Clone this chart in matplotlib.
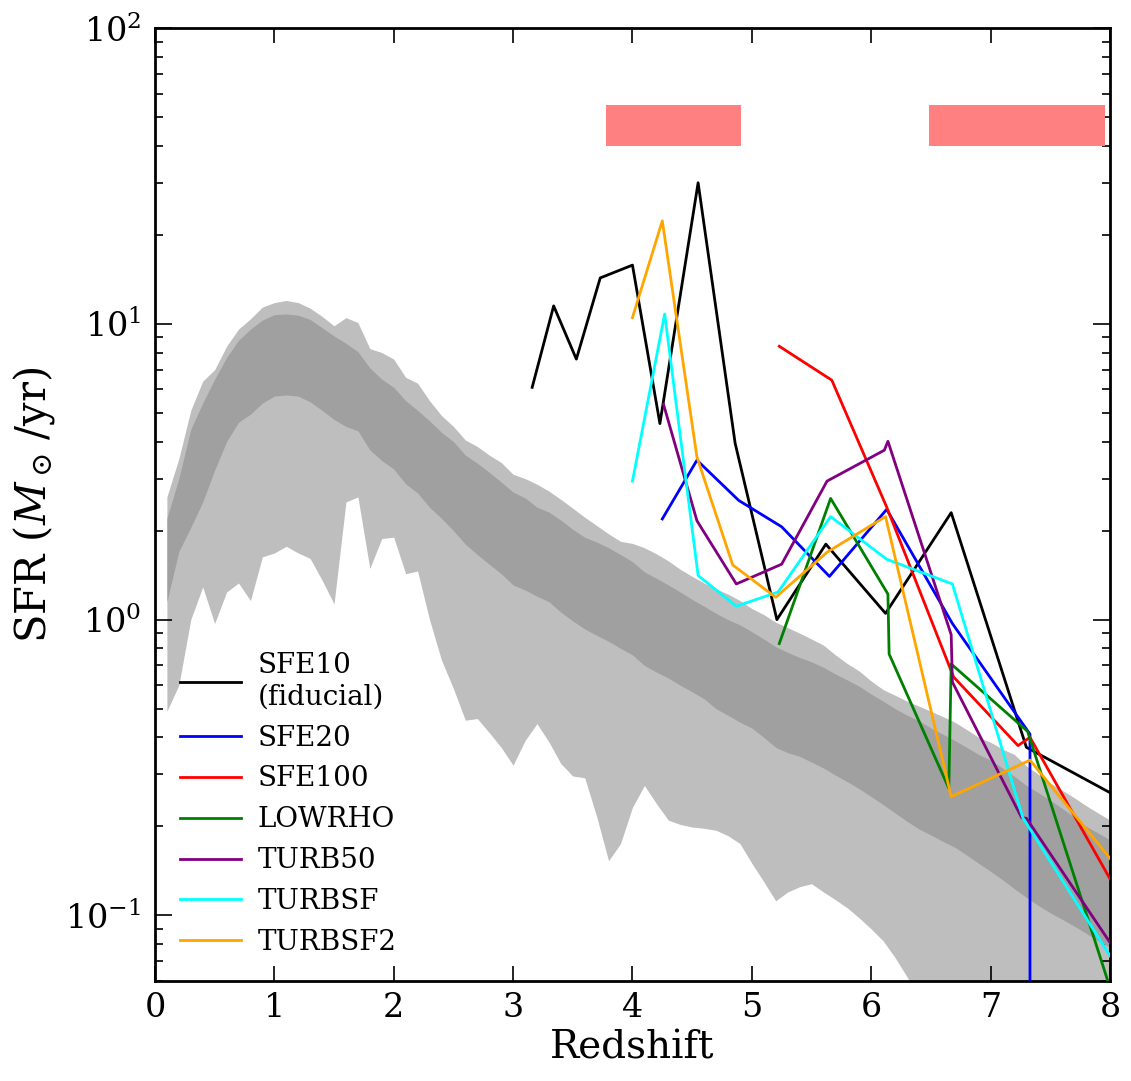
import numpy as np
import matplotlib
matplotlib.use("Agg")
import matplotlib.pyplot as plt

plt.rcParams['font.family'] = 'serif'
plt.rcParams['font.serif'] = ['DejaVu Serif']
plt.rcParams['mathtext.fontset'] = 'dejavuserif'
plt.rcParams['axes.unicode_minus'] = False

# redshift grid of the sample distribution (percentile bands)
band_z = np.round(np.arange(0.1, 8.01, 0.1), 1)

# outer band, upper edge
light_hi = [2.6, 3.5, 5.1, 6.4, 7.0, 8.4, 9.6, 10.4, 11.4, 11.8,
            12.0, 11.8, 11.3, 10.6, 9.85, 10.5, 10.1, 8.25, 8.0, 7.6,
            6.6, 6.3, 5.5, 4.9, 4.5, 4.05, 3.85, 3.6, 3.4, 3.1,
            3.0, 2.87, 2.72, 2.55, 2.38, 2.22, 2.08, 1.95, 1.84, 1.81,
            1.75, 1.67, 1.58, 1.48, 1.40, 1.33, 1.27, 1.22, 1.16, 1.09,
            1.04, 0.98, 0.94, 0.90, 0.86, 0.82, 0.76, 0.71, 0.67, 0.62,
            0.58, 0.555, 0.53, 0.51, 0.49, 0.47, 0.45, 0.425, 0.40, 0.385,
            0.365, 0.35, 0.32, 0.30, 0.28, 0.265, 0.25, 0.235, 0.222, 0.21]
# outer band, lower edge
light_lo = [0.49, 0.60, 1.0, 1.29, 0.97, 1.24, 1.33, 1.16, 1.63, 1.68,
            1.77, 1.68, 1.61, 1.36, 1.13, 2.50, 2.60, 1.49, 1.88, 1.90,
            1.43, 1.46, 1.0, 0.73, 0.585, 0.457, 0.463, 0.415, 0.37, 0.322,
            0.39, 0.445, 0.386, 0.326, 0.296, 0.292, 0.216, 0.153, 0.175, 0.232,
            0.275, 0.239, 0.21, 0.203, 0.199, 0.197, 0.194, 0.186, 0.175, 0.15,
            0.13, 0.112, 0.12, 0.125, 0.128, 0.12, 0.113, 0.106, 0.098, 0.09,
            0.082, 0.072, 0.062, 0.052, 0.045, 0.04, 0.036, 0.032, 0.029, 0.026,
            0.024, 0.022, 0.02, 0.018, 0.017, 0.016, 0.015, 0.014, 0.013, 0.012]
# inner band, upper edge
dark_hi = [2.2, 3.0, 4.4, 5.4, 6.5, 7.7, 8.8, 9.6, 10.3, 10.75,
           10.8, 10.7, 10.35, 9.7, 9.1, 8.6, 8.05, 7.1, 6.5, 6.1,
           5.5, 5.1, 4.7, 4.3, 4.0, 3.6, 3.38, 3.15, 2.92, 2.70,
           2.58, 2.40, 2.31, 2.17, 2.02, 1.90, 1.83, 1.75, 1.66, 1.57,
           1.45, 1.38, 1.31, 1.24, 1.17, 1.11, 1.05, 1.0, 0.96, 0.91,
           0.86, 0.81, 0.775, 0.745, 0.72, 0.69, 0.655, 0.625, 0.595, 0.56,
           0.53, 0.50, 0.475, 0.455, 0.43, 0.41, 0.39, 0.37, 0.35, 0.335,
           0.315, 0.295, 0.275, 0.26, 0.245, 0.23, 0.215, 0.20, 0.19, 0.18]
# inner band, lower edge
dark_lo = [1.15, 1.7, 2.05, 2.5, 3.2, 4.0, 4.65, 4.95, 5.4, 5.7,
           5.75, 5.7, 5.45, 5.1, 4.75, 4.5, 4.35, 3.75, 3.45, 3.23,
           2.88, 2.68, 2.40, 2.20, 2.0, 1.80, 1.66, 1.54, 1.43, 1.31,
           1.26, 1.20, 1.15, 1.06, 0.99, 0.93, 0.885, 0.845, 0.80, 0.76,
           0.70, 0.665, 0.635, 0.60, 0.57, 0.54, 0.50, 0.475, 0.45, 0.43,
           0.40, 0.37, 0.355, 0.345, 0.33, 0.315, 0.298, 0.283, 0.268, 0.252,
           0.237, 0.222, 0.208, 0.196, 0.187, 0.178, 0.170, 0.160, 0.150, 0.141,
           0.132, 0.123, 0.115, 0.108, 0.102, 0.097, 0.092, 0.087, 0.082, 0.078]

# simulation runs: redshift, SFR
runs = ['SFE10\n(fiducial)', 'SFE20', 'SFE100', 'LOWRHO', 'TURB50', 'TURBSF', 'TURBSF2']
colors = ['k', 'b', 'r', 'g', 'purple', 'cyan', 'orange']

sfe10_z = [3.16, 3.34, 3.53, 3.73, 4.00, 4.23, 4.55, 4.86, 5.21, 5.62, 6.12, 6.67, 7.30, 8.0]
sfe10_sfr = [6.1, 11.5, 7.6, 14.3, 15.8, 4.6, 30.0, 3.95, 1.0, 1.8, 1.05, 2.3, 0.37, 0.26]

sfe20_z = [4.25, 4.54, 4.89, 5.25, 5.65, 6.13, 6.68, 7.33, 7.33]
sfe20_sfr = [2.19, 3.46, 2.53, 2.06, 1.40, 2.36, 0.97, 0.41, 0.0]

sfe100_z = [5.23, 5.67, 6.13, 6.69, 7.23, 7.33, 8.0]
sfe100_sfr = [8.4, 6.45, 2.4, 0.64, 0.375, 0.40, 0.133]

lowrho_z = [5.23, 5.66, 6.14, 6.15, 6.65, 6.67, 7.31, 8.0]
lowrho_sfr = [0.83, 2.57, 1.22, 0.765, 0.269, 0.708, 0.419, 0.057]

turb50_z = [4.26, 4.54, 4.87, 5.25, 5.63, 6.11, 6.14, 6.67, 6.68, 7.26, 7.30, 8.0]
turb50_sfr = [5.35, 2.16, 1.32, 1.54, 2.94, 3.74, 4.01, 0.889, 0.615, 0.214, 0.213, 0.081]

turbsf_z = [4.0, 4.27, 4.55, 4.87, 5.22, 5.66, 6.13, 6.68, 7.27, 8.0]
turbsf_sfr = [2.94, 10.8, 1.41, 1.11, 1.24, 2.23, 1.60, 1.32, 0.214, 0.073]

turbsf2_z = [4.0, 4.25, 4.54, 4.84, 5.2, 5.63, 6.12, 6.67, 7.33, 8.0]
turbsf2_sfr = [10.5, 22.3, 3.55, 1.53, 1.19, 1.69, 2.23, 0.252, 0.335, 0.156]

run_z = [sfe10_z, sfe20_z, sfe100_z, lowrho_z, turb50_z, turbsf_z, turbsf2_z]
run_sfr = [sfe10_sfr, sfe20_sfr, sfe100_sfr, lowrho_sfr, turb50_sfr, turbsf_sfr, turbsf2_sfr]

# redshift windows marked at the top
window_lo = [3.78, 6.48]
window_hi = [4.91, 7.96]
window_sfr = [40.0, 55.0]

fig = plt.figure(figsize=(11.31, 10.81), dpi=100)
ax = fig.add_axes([0.137, 0.0925, 0.8444, 0.8815])

ax.fill_between(band_z, light_lo, light_hi, color='#bebebe', lw=0, zorder=1)
ax.fill_between(band_z, dark_lo, dark_hi, color='#a0a0a0', lw=0, zorder=2)

for lo, hi in zip(window_lo, window_hi):
    ax.fill_between([lo, hi], window_sfr[0], window_sfr[1], color='#ff8080', lw=0, zorder=2)

for name, c, zz, ss in zip(runs, colors, run_z, run_sfr):
    ax.plot(zz, ss, color=c, lw=2.0, label=name, zorder=3)

ax.set_yscale('log')
ax.set_xlim(0, 8)
ax.set_ylim(0.06, 100)
ax.set_xticks(range(0, 9))

ax.set_xlabel('Redshift', fontsize=28, labelpad=4)
ax.set_ylabel(r'SFR $(M_\odot\,/{\rm yr})$', fontsize=30, labelpad=6)

for s in ax.spines.values():
    s.set_linewidth(2)
ax.tick_params(which='both', direction='in', top=True, right=True, labelsize=24)
ax.tick_params(axis='x', which='major', length=11, width=1.2, pad=8)
ax.tick_params(axis='y', which='major', length=12, width=1.2, pad=10)
ax.tick_params(axis='y', which='minor', length=6, width=1.2)
ax.tick_params(axis='x', which='minor', bottom=False, top=False)

ax.legend(loc='lower left', frameon=False, fontsize=20, handlelength=2.2,
          handletextpad=0.6, labelspacing=0.5)

fig.savefig('out.png', dpi=100)
